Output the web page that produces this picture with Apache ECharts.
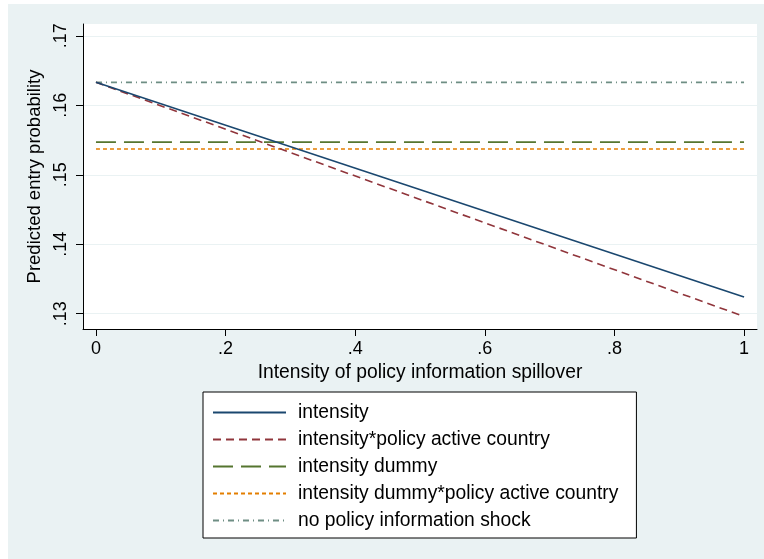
<!DOCTYPE html>
<html>
<head>
<meta charset="utf-8">
<script src="https://cdn.jsdelivr.net/npm/echarts@6/dist/echarts.min.js"></script>
<style>
html,body{margin:0;padding:0;background:#fff;}
#c{width:764px;height:559px;}
</style>
</head>
<body>
<div id="c"></div>
<script>
// ---- data ----
const xVals = [0, 1];
const intensity = [0.1633, 0.1324];
const intensityPolicy = [0.1633, 0.1296];
const intensityDummy = [0.1547, 0.1547];
const intensityDummyPolicy = [0.1537, 0.1537];
const noShock = [0.1633, 0.1633];
const seriesNames = ['intensity', 'intensity*policy active country', 'intensity dummy', 'intensity dummy*policy active country', 'no policy information shock'];
const xTicks = [0, 0.2, 0.4, 0.6, 0.8, 1];
const xTickLabels = ['0', '.2', '.4', '.6', '.8', '1'];
const yTicks = [0.13, 0.14, 0.15, 0.16, 0.17];
const yTickLabels = ['.13', '.14', '.15', '.16', '.17'];
const xTitle = 'Intensity of policy information spillover';
const yTitle = 'Predicted entry probability';

const FONT = "'Liberation Sans', Arial, Helvetica, sans-serif";
const pts = arr => xVals.map((x, i) => [x, arr[i]]);
const fmt = (vals, labels) => v => { const i = vals.findIndex(t => Math.abs(t - v) < 1e-9); return i >= 0 ? labels[i] : ''; };

const styles = [
  {color: '#1a476f', type: 'solid'},
  {color: '#90353b', type: [8, 5]},
  {color: '#55752f', type: [20, 8]},
  {color: '#e37e00', type: [4, 3]},
  {color: '#6e8e84', type: [6, 4, 1, 4]}
];
const datas = [intensity, intensityPolicy, intensityDummy, intensityDummyPolicy, noShock];

const chart = echarts.init(document.getElementById('c'), null, {renderer: 'canvas'});
chart.setOption({
  animation: false,
  backgroundColor: '#fff',
  graphic: [{type: 'rect', shape: {x: 8, y: 4, width: 756, height: 555}, style: {fill: '#eaf2f3'}, z: -10, silent: true}],
  grid: {left: 83, top: 24, right: 7, bottom: 230, show: true, backgroundColor: '#fff', borderWidth: 0},
  xAxis: {
    type: 'value', min: -0.02, max: 1.02,
    name: xTitle, nameLocation: 'middle', nameGap: 29,
    nameTextStyle: {fontFamily: FONT, fontSize: 19.3, color: '#000'},
    axisLine: {show: true, onZero: false, lineStyle: {color: '#000', width: 1}},
    axisTick: {show: true, length: 7, lineStyle: {color: '#000'}, customValues: xTicks},
    axisLabel: {customValues: xTicks, formatter: fmt(xTicks, xTickLabels), fontFamily: FONT, fontSize: 18, color: '#000', margin: 11},
    splitLine: {show: false}
  },
  yAxis: {
    type: 'value', min: 0.1278, max: 0.1717,
    name: yTitle, nameLocation: 'middle', nameGap: 36,
    nameTextStyle: {fontFamily: FONT, fontSize: 18.5, color: '#000'},
    axisLine: {show: true, onZero: false, lineStyle: {color: '#000', width: 1}},
    axisTick: {show: true, length: 7, lineStyle: {color: '#000'}, customValues: yTicks},
    axisLabel: {customValues: yTicks, formatter: fmt(yTicks, yTickLabels), rotate: 90, fontFamily: FONT, fontSize: 18, color: '#000', margin: 13},
    splitLine: {show: true, lineStyle: {color: '#eaf2f3', width: 1}}
  },
  legend: {
    orient: 'vertical', left: 203, top: 392, bottom: 0,
    backgroundColor: '#fff', borderColor: '#000', borderWidth: 1,
    padding: [10, 18, 7, 9],
    itemWidth: 73, itemHeight: 14, itemGap: 6,
    itemStyle: {opacity: 0, borderWidth: 0},
    textStyle: {fontFamily: FONT, fontSize: 19.3, lineHeight: 21, color: '#000', padding: [0, 0, 0, 7]},
    data: seriesNames
  },
  series: datas.map((d, i) => ({
    name: seriesNames[i], type: 'line', data: pts(d), symbol: 'none',
    lineStyle: {color: styles[i].color, type: styles[i].type, width: 1.6},
    itemStyle: {color: styles[i].color},
    z: 10 - i
  }))
});
</script>
</body>
</html>
